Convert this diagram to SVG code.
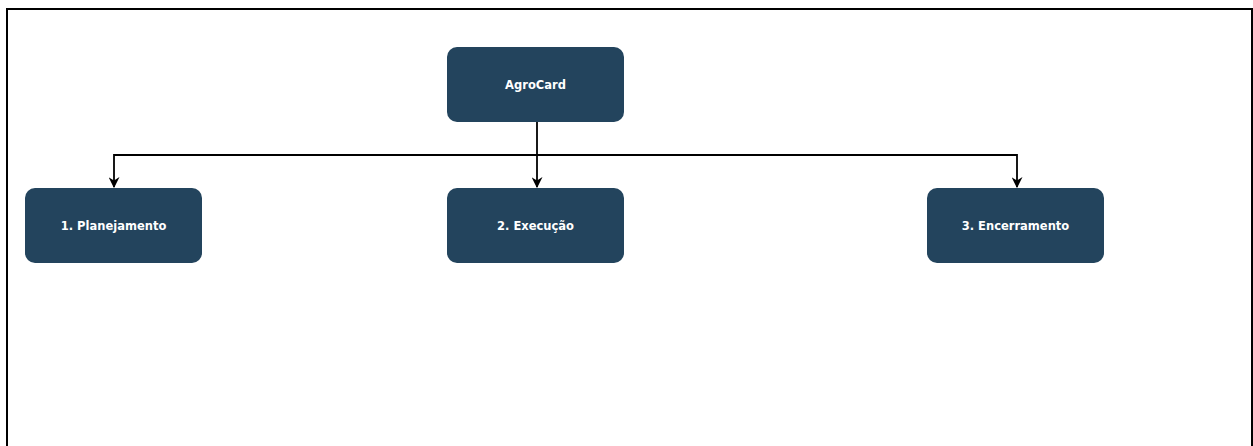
<svg xmlns="http://www.w3.org/2000/svg" width="1253" height="446" viewBox="0 0 1253 446">
<style>
.node rect{fill:#23445d;}
.node text{fill:#ffffff;font-family:"DejaVu Sans",Verdana,sans-serif;font-weight:bold;font-size:11.5px;text-anchor:middle;dominant-baseline:central;}
.edge{fill:none;stroke:#000;stroke-width:1.8;marker-end:url(#arr);}
</style>
<defs>
<marker id="arr" viewBox="0 0 10 10" refX="9" refY="5" markerWidth="11" markerHeight="11" markerUnits="userSpaceOnUse" orient="auto">
<path d="M0,0 L10,5 L0,10 L3,5 Z" fill="#000"/>
</marker>
</defs>
<rect x="0" y="0" width="1253" height="446" fill="#fff"/>
<rect x="7" y="9" width="1245" height="450" fill="none" stroke="#000" stroke-width="2"/>
<g id="connectors">
<path class="edge" d="M537,121 V187"/>
<path class="edge" d="M537,155 H114 V187"/>
<path class="edge" d="M537,155 H1017 V187"/>
</g>
<g id="agrocard" class="node"><rect x="447" y="47" width="177" height="75" rx="10"/><text x="535.5" y="84.5">AgroCard</text></g>
<g id="planejamento" class="node"><rect x="25" y="188" width="177" height="75" rx="10"/><text x="113.5" y="225.5">1. Planejamento</text></g>
<g id="execucao" class="node"><rect x="447" y="188" width="177" height="75" rx="10"/><text x="535.5" y="225.5">2. Execução</text></g>
<g id="encerramento" class="node"><rect x="927" y="188" width="177" height="75" rx="10"/><text x="1015.5" y="225.5">3. Encerramento</text></g>
</svg>
